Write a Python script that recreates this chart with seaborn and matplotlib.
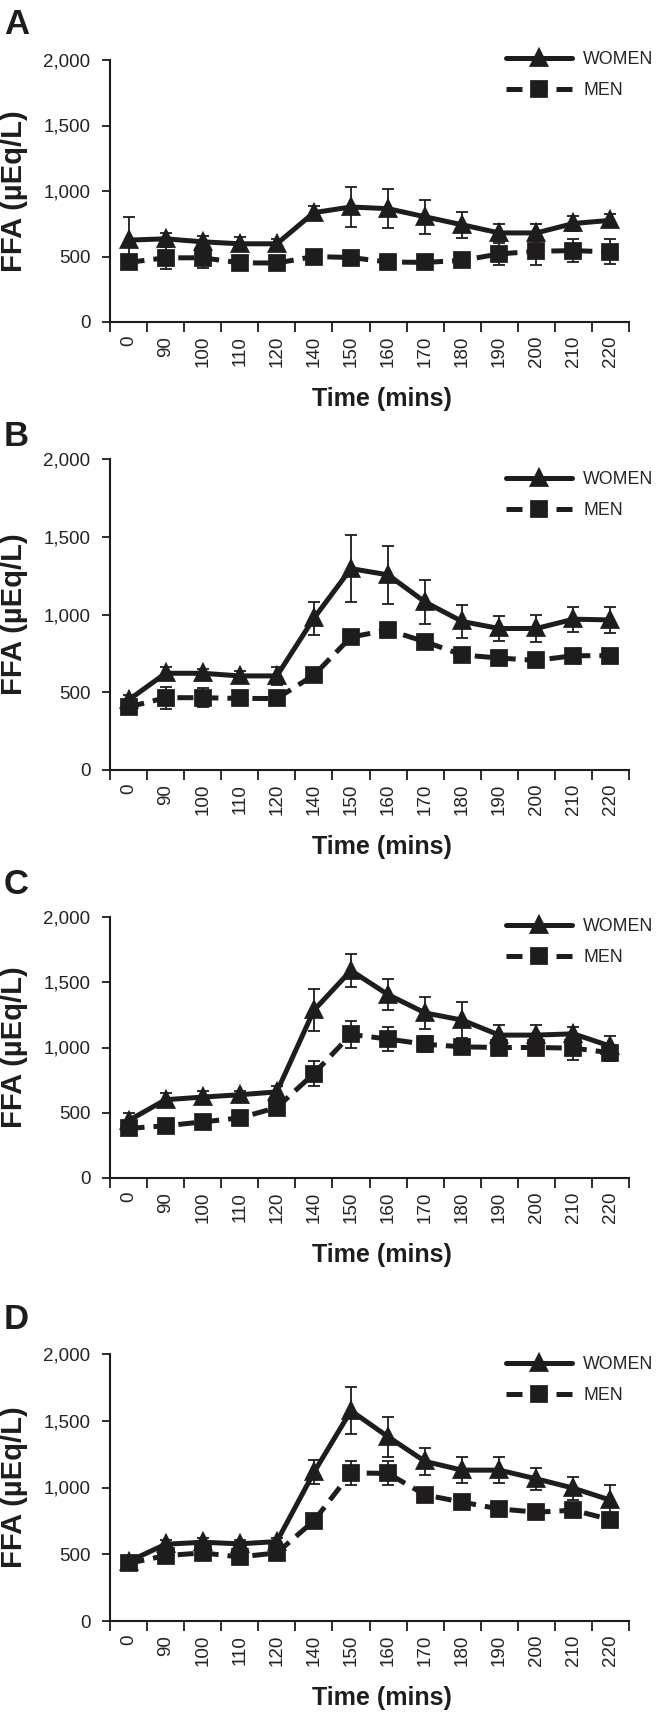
import numpy as np
import pandas as pd
import matplotlib
matplotlib.use("Agg")
import matplotlib.pyplot as plt
from matplotlib.ticker import FuncFormatter
import seaborn as sns

# Data (FFA, uEq/L), mean and SEM per time point
times = ["0", "90", "100", "110", "120", "140", "150", "160", "170", "180", "190", "200", "210", "220"]
panels = ["A", "B", "C", "D"]

women_a = [625, 635, 612, 597, 597, 835, 878, 865, 803, 742, 680, 680, 752, 776]
women_a_sem = [175, 45, 45, 55, 40, 50, 150, 150, 130, 100, 65, 65, 60, 50]
men_a = [455, 490, 490, 452, 450, 500, 492, 458, 455, 470, 520, 540, 545, 535]
men_a_sem = [45, 85, 75, 55, 55, 40, 45, 40, 40, 50, 85, 105, 90, 95]

women_b = [450, 622, 622, 605, 605, 976, 1295, 1255, 1080, 955, 910, 910, 970, 965]
women_b_sem = [30, 40, 30, 30, 60, 105, 215, 185, 140, 105, 80, 85, 80, 85]
men_b = [405, 465, 465, 460, 460, 610, 855, 900, 825, 740, 720, 705, 735, 735]
men_b_sem = [35, 70, 60, 40, 40, 40, 45, 30, 35, 35, 30, 30, 30, 30]

women_c = [440, 600, 620, 638, 660, 1285, 1590, 1405, 1265, 1210, 1095, 1095, 1105, 1010]
women_c_sem = [55, 55, 45, 30, 45, 160, 130, 120, 120, 135, 75, 75, 55, 75]
men_c = [380, 400, 430, 460, 540, 800, 1100, 1065, 1025, 1005, 1000, 1000, 995, 960]
men_c_sem = [40, 30, 40, 40, 40, 95, 100, 90, 60, 50, 50, 50, 90, 60]

women_d = [445, 575, 590, 578, 595, 1113, 1575, 1380, 1195, 1130, 1130, 1065, 995, 905]
women_d_sem = [35, 30, 30, 30, 30, 90, 175, 150, 100, 100, 100, 80, 85, 110]
men_d = [432, 490, 510, 480, 510, 750, 1110, 1105, 945, 890, 840, 815, 830, 760]
men_d_sem = [50, 40, 40, 40, 40, 40, 90, 90, 40, 40, 40, 40, 40, 40]

women = [women_a, women_b, women_c, women_d]
women_sem = [women_a_sem, women_b_sem, women_c_sem, women_d_sem]
men = [men_a, men_b, men_c, men_d]
men_sem = [men_a_sem, men_b_sem, men_c_sem, men_d_sem]

sns.set_style("ticks")
plt.rcParams["font.family"] = ["Liberation Sans", "DejaVu Sans"]

INK = "#1e1c1d"
W, H = 661, 1716
fig = plt.figure(figsize=(W / 100, H / 100), dpi=100)

# axes boxes in pixels: (top, bottom), panel letter tops, legend row offsets
boxes = [(60, 322), (459, 770), (917, 1178), (1354, 1621)]
letter_top = [8, 420, 868, 1303]
legend_off = [0, 21, 10, 11]
left_px, right_px = 110, 629

for i, p in enumerate(panels):
    top, bot = boxes[i]
    ax = fig.add_axes([left_px / W, 1 - bot / H, (right_px - left_px) / W, (bot - top) / H])

    df = pd.DataFrame({
        "time": times * 2,
        "ffa": women[i] + men[i],
        "sex": ["WOMEN"] * len(times) + ["MEN"] * len(times),
    })
    for vals, sem in ((women[i], women_sem[i]), (men[i], men_sem[i])):
        ax.errorbar(np.arange(len(times)), vals, yerr=sem, fmt="none",
                    ecolor=INK, elinewidth=1.3, capsize=4, capthick=1.3, zorder=1)
    sns.pointplot(data=df, x="time", y="ffa", hue="sex", order=times,
                  hue_order=["WOMEN", "MEN"], palette=[INK, INK],
                  markers=["^", "s"], linestyles=["-", (0, (3.2, 1.8))],
                  errorbar=None, dodge=False, markersize=10.5, linewidth=3.6, ax=ax)
    for ln in ax.lines:
        ln.set_zorder(3)

    ax.set_xlim(-0.5, len(times) - 0.5)
    ax.set_ylim(0, 2000)
    ax.set_yticks([0, 500, 1000, 1500, 2000])
    ax.yaxis.set_major_formatter(FuncFormatter(lambda v, _: f"{int(v):,}"))
    ax.set_xticks(np.arange(len(times)))
    ax.set_xticklabels(times, rotation=90)
    ax.set_xticks(np.arange(-0.5, len(times), 1), minor=True)
    ax.tick_params(axis="x", which="major", length=0, pad=10, labelsize=13.5, labelcolor="#222222")
    ax.tick_params(axis="x", which="minor", length=7, width=1.3, color=INK)
    ax.tick_params(axis="y", length=6, width=1.3, color=INK, pad=8, labelsize=13.5, labelcolor="#222222")
    sns.despine(ax=ax)
    for s in ("left", "bottom"):
        ax.spines[s].set_linewidth(1.5)
        ax.spines[s].set_color(INK)

    h_px = bot - top
    ax.set_xlabel("Time (mins)", fontsize=18, fontweight="bold", color=INK)
    ax.xaxis.label.set_va("center")
    ax.xaxis.set_label_coords(0.5 + 12 / (right_px - left_px), -77 / h_px)
    ax.set_ylabel("FFA (µEq/L)", fontsize=21, fontweight="bold", color=INK)
    ax.yaxis.label.set_va("center")
    ax.yaxis.set_label_coords((14 - left_px) / (right_px - left_px), 0.5)

    handles, labels = ax.get_legend_handles_labels()
    ax.legend(handles, labels, loc="upper left", frameon=False,
              bbox_to_anchor=((506 - left_px) / (right_px - left_px), 1 + (9 - legend_off[i]) / h_px),
              borderaxespad=0, borderpad=0, handlelength=3.7, handletextpad=0.65,
              labelspacing=0.8, fontsize=12.8)

    fig.text(4 / W, 1 - letter_top[i] / H, p, fontsize=25, fontweight="bold",
             va="top", ha="left", color=INK)

fig.savefig("out.png", dpi=100)
